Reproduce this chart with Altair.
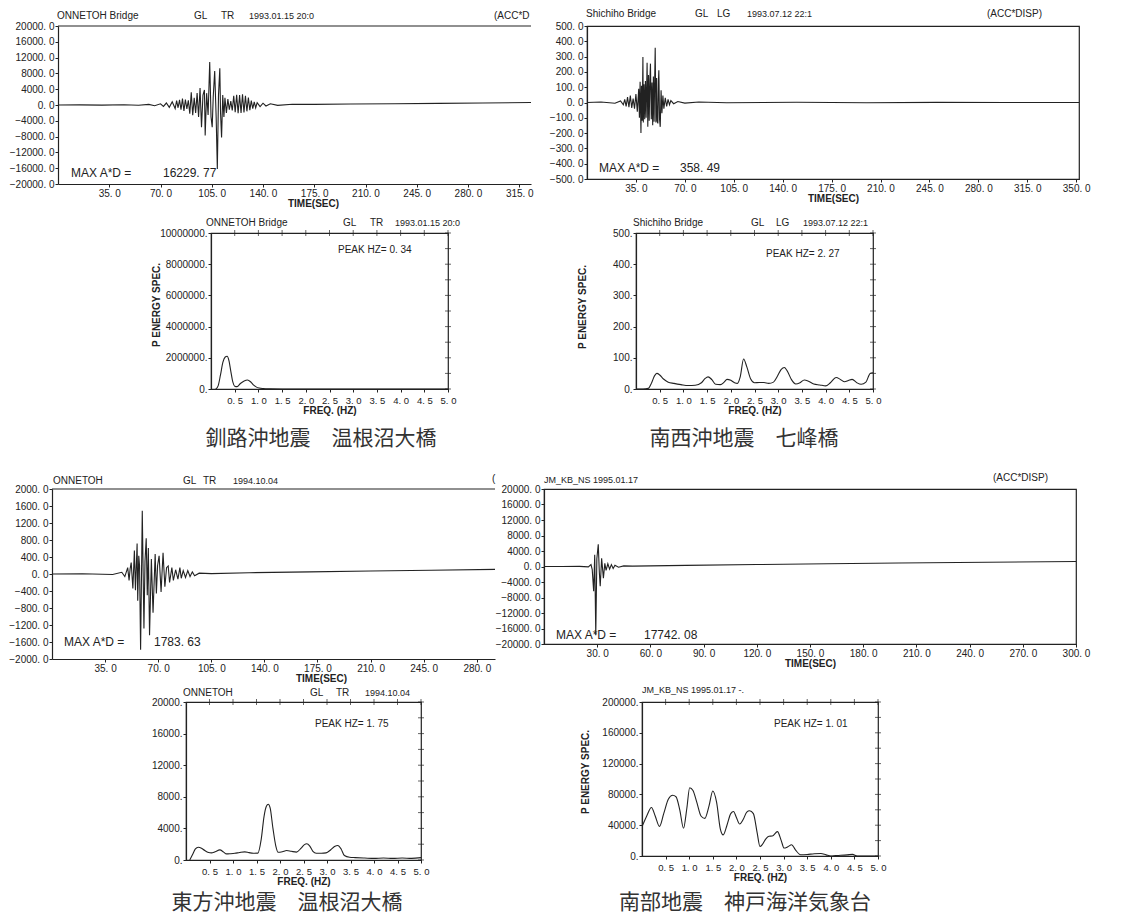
import altair as alt
import pandas as pd

FONT = "Liberation Sans"
CJK = "Noto Sans CJK JP"
INK = "#222222"

# ---------------- data ----------------
ts1_t = [0, 15, 30, 45, 55, 62, 66, 70, 72, 74, 76, 78, 80, 81, 82, 83, 84, 85, 86, 87,
         88, 89, 90, 91, 92, 93, 94, 95, 96, 97, 98, 99, 100, 100.5, 101.5, 102.5, 103.6,
         104.5, 105.3, 106, 107, 108, 108.8, 109.6, 110.5, 111, 111.7, 112.5, 113.3, 114,
         115, 116, 117, 118, 119, 120, 121, 122, 123, 124, 125, 126, 127, 128, 129, 130,
         131, 132, 133, 134, 135, 136, 138, 140, 142, 145, 150, 160, 175, 200, 230, 260, 290, 323]
ts1_v = [0, 40, -30, 60, -80, 150, -200, 300, -350, 500, -600, 800, -900, 1100, -700, 1300,
         -1200, 1600, -1500, 1400, -1000, 1200, -2200, 3200, -2600, 1800, -2000, 3000, -3000,
         4300, -5600, 2500, 3800, -7700, 3000, -2500, 10900, -3000, -5600, 2000, 8600, -3000,
         -16230, 2500, 9300, -2000, -8200, 2500, -3000, 1800, -2000, 1500, -1200, 1000, -1400,
         2300, -1800, 2600, -2100, 2500, -2000, 2700, -1900, 2300, -1600, 1900, -1300, 1100,
         -900, 800, -700, 600, -400, 450, -250, 300, -100, 200, 150, 250, 300, 400, 500, 650]

ts2_t = [0, 10, 20, 24, 26, 27, 28, 29, 30, 31, 32, 33, 34, 35, 36, 37, 37.5, 38, 38.6, 39,
         39.5, 40, 40.3, 40.8, 41.3, 41.8, 42.3, 43, 43.5, 44, 44.5, 45, 45.4, 46, 46.5, 47,
         47.5, 48, 48.4, 48.8, 49.3, 49.8, 50.2, 50.7, 51.1, 51.4, 51.9, 52.4, 53, 53.6, 54.3,
         55, 56, 57, 58, 59, 60, 62, 65, 70, 80, 100, 150, 200, 250, 300, 352]
ts2_v = [0, 3, -5, 10, -15, 20, -25, 35, -30, 45, -35, 25, -40, 55, -60, 90, -100, 135, -200,
         110, -120, 298, -130, 120, -110, 140, -100, 259, -159, 180, -120, 150, 254, -110, 130,
         -148, 170, -125, 140, 358, -130, 160, -120, -137, 140, 211, -110, -159, 80, -70, 45,
         -40, 30, -25, 20, -15, 12, -8, 6, -4, 3, -2, 2, -2, 1, 0, 0]

ts3_t = [0, 20, 40, 46, 48, 49.9, 50.8, 51.5, 52.2, 53.3, 54.3, 55, 56.1, 56.5, 57.2, 57.7,
         58.4, 59.5, 60.6, 61.3, 62.1, 62.8, 63.5, 64.3, 65.5, 66.6, 68, 68.8, 69.6, 70.6,
         71.9, 73.2, 74.4, 75.5, 76.6, 77.5, 79, 80, 81.5, 83, 84.3, 85.2, 86.5, 88, 89.5, 91,
         92.5, 94, 97, 105, 130, 170, 210, 250, 292]
ts3_v = [0, 5, -10, 40, -60, 150, -150, 120, 270, -340, 550, -380, 720, -630, 430, 200, -1784,
         1490, -1280, 300, 840, -500, 610, -1440, 350, -910, 470, -460, 200, 430, -420, 500,
         -300, 150, 190, -200, 150, -150, 100, -120, 150, -100, 80, -80, 80, -60, 50, -40, 20,
         10, 30, 50, 70, 90, 110]

ts4_t = [0, 10, 20, 25, 26.5, 27.2, 28, 28.6, 29.2, 29.8, 30.6, 31.2, 31.7, 32.5, 33.5, 34.3,
         35, 36, 37, 38, 39, 40, 42, 45, 50, 80, 120, 160, 200, 250, 300]
ts4_v = [0, 10, 30, -100, 500, -800, -6400, 3000, -17742, 2000, 5740, -1500, -5100, 2100,
         -3000, 800, -1000, 700, -700, 500, -500, 300, -200, 150, 100, 300, 500, 700, 900,
         1100, 1300]

sp1_f = [0.10, 0.15, 0.20, 0.25, 0.30, 0.34, 0.38, 0.42, 0.46, 0.50, 0.55, 0.62, 0.70, 0.77,
         0.84, 0.90, 0.96, 1.02, 1.10, 1.25, 1.50, 2.00, 3.00, 4.00, 5.00]
sp1_p = [0, 200000, 900000, 1700000, 2050000, 2100000, 1800000, 1100000, 450000, 180000,
         150000, 350000, 520000, 580000, 450000, 250000, 120000, 60000, 30000, 10000, 0, 0,
         0, 0, 0]

sp2_f = [0.0, 0.15, 0.26, 0.33, 0.39, 0.44, 0.50, 0.58, 0.68, 0.80, 0.95, 1.10, 1.25, 1.38,
         1.46, 1.52, 1.60, 1.68, 1.78, 1.86, 1.92, 2.0, 2.08, 2.14, 2.20, 2.27, 2.34, 2.42,
         2.50, 2.60, 2.70, 2.80, 2.90, 2.98, 3.06, 3.13, 3.20, 3.28, 3.37, 3.46, 3.55, 3.64,
         3.75, 3.88, 4.0, 4.10, 4.22, 4.32, 4.40, 4.48, 4.56, 4.66, 4.75, 4.85, 4.94, 5.0]
sp2_p = [0, 0, 2, 20, 42, 50, 45, 32, 22, 18, 14, 11, 12, 20, 34, 39, 30, 15, 14, 22, 31, 28,
         20, 18, 40, 96, 70, 32, 20, 21, 21, 18, 22, 40, 62, 69, 55, 30, 16, 20, 29, 25, 16,
         13, 10, 20, 37, 30, 23, 27, 31, 20, 15, 22, 50, 52]

sp3_f = [0.08, 0.14, 0.20, 0.26, 0.33, 0.40, 0.48, 0.54, 0.62, 0.72, 0.80, 0.86, 0.95, 1.04,
         1.14, 1.25, 1.34, 1.43, 1.53, 1.60, 1.66, 1.71, 1.75, 1.79, 1.85, 1.91, 1.96, 2.05,
         2.14, 2.24, 2.35, 2.45, 2.52, 2.57, 2.63, 2.70, 2.77, 2.88, 2.98, 3.08, 3.16, 3.23,
         3.30, 3.37, 3.48, 3.60, 3.80, 4.0, 4.2, 4.4, 4.6, 4.8, 5.0]
sp3_p = [0, 700, 1400, 1620, 1500, 1200, 950, 900, 1050, 1280, 1000, 770, 800, 850, 950, 1030,
         930, 850, 870, 2600, 5500, 6800, 7050, 6600, 4000, 1800, 980, 1050, 1200, 1100, 1000,
         1500, 1950, 2050, 1800, 1100, 850, 850, 900, 1300, 1700, 1840, 1400, 560, 340, 300,
         250, 200, 250, 200, 250, 200, 300]

sp4_f = [0.01, 0.1, 0.2, 0.28, 0.37, 0.46, 0.56, 0.65, 0.72, 0.80, 0.88, 0.95, 1.01, 1.08,
         1.16, 1.25, 1.33, 1.42, 1.50, 1.58, 1.66, 1.72, 1.80, 1.88, 1.94, 2.00, 2.07, 2.14,
         2.22, 2.28, 2.36, 2.44, 2.50, 2.55, 2.62, 2.69, 2.76, 2.87, 2.95, 3.01, 3.09, 3.17,
         3.25, 3.36, 3.50, 3.65, 3.79, 3.90, 4.00, 4.10, 4.21, 4.35, 4.46, 4.56, 4.70, 5.0]
sp4_p = [39400, 52000, 63000, 52000, 38500, 55000, 74000, 78800, 77000, 60000, 36000, 62000,
         88600, 85000, 70000, 52000, 48800, 65000, 84400, 70000, 35000, 27400, 40000, 55000,
         57800, 50000, 41500, 47000, 57000, 58700, 55000, 30000, 12400, 15000, 22000, 25700,
         26000, 31700, 20000, 10300, 12000, 14600, 8000, 1700, 2000, 3000, 3200, 1500, 0, 500,
         900, 1500, 2100, 0, 0, 0]

# tick label values
ts1_ticks = [35, 70, 105, 140, 175, 210, 245, 280, 315]
ts2_ticks = [35, 70, 105, 140, 175, 210, 245, 280, 315, 350]
ts3_ticks = [35, 70, 105, 140, 175, 210, 245, 280]
ts4_ticks = [30, 60, 90, 120, 150, 180, 210, 240, 270, 300]
freq_ticks = [0.5, 1.0, 1.5, 2.0, 2.5, 3.0, 3.5, 4.0, 4.5, 5.0]

ONE = pd.DataFrame({"k": [0]})
DOT = "replace(format(datum.value, '.1f'), '.', '. ')"
T0 = 17  # room kept above every row for the panel headers
NOFRAME = alt.ViewBackground(stroke="transparent")


def txt(s, x, y, size=10, weight="normal", align="left", angle=0, font=FONT, color=INK):
    return alt.Chart(ONE).mark_text(
        text=s, font=font, fontSize=size, fontWeight=weight, align=align,
        baseline="alphabetic", angle=angle, color=color,
    ).encode(x=alt.value(x), y=alt.value(y))


def gap(w):
    return alt.Chart(ONE).mark_point(opacity=0).encode(
        x=alt.value(0), y=alt.value(0)
    ).properties(width=w, height=1, view=NOFRAME)


def lead(w, h):
    # invisible leading cell of a row: fixes the row's left edge and vertical extent
    return alt.Chart(ONE).mark_rule(opacity=0).encode(
        x=alt.value(0), y=alt.value(-T0), y2=alt.value(h)
    ).properties(width=w, height=h, view=NOFRAME)


def ts_panel(t, v, xmax, xticks, ylim, ystep, W, H, texts, title_x=None, open_right=False):
    xaxis = dict(values=xticks, labelExpr=DOT, title="TIME(SEC)", titlePadding=0,
                 labelPadding=1)
    if title_x is not None:
        xaxis["titleX"] = title_x
    line = alt.Chart(pd.DataFrame({"t": t, "v": v})).mark_line(
        color=INK, strokeWidth=1.1, clip=True
    ).encode(
        x=alt.X("t:Q", scale=alt.Scale(domain=[0, xmax], nice=False, zero=False),
                axis=alt.Axis(**xaxis)),
        y=alt.Y("v:Q", scale=alt.Scale(domain=[-ylim, ylim], nice=False),
                axis=alt.Axis(values=list(range(-ylim, ylim + 1, ystep)),
                              labelExpr=DOT, title=None)),
    )
    layers = [line]
    props = dict(width=W, height=H)
    if open_right:
        # the right edge of this trace is hidden by its neighbour: only a top line
        layers.append(alt.Chart(ONE).mark_rule(color=INK, strokeWidth=1.2).encode(
            x=alt.value(0), x2=alt.value(W), y=alt.value(0)))
        props["view"] = NOFRAME
    return alt.layer(*layers, *texts).properties(**props)


def sp_panel(f, p, ymax, ystep, W, H, texts):
    xs = alt.Scale(domain=[0, 5], nice=False, zero=False)
    ys = alt.Scale(domain=[0, ymax], nice=False)
    xax = alt.Axis(values=freq_ticks, labelExpr=DOT, title="FREQ. (HZ)",
                   titlePadding=1, labelPadding=3, labelFontSize=9.5)
    yax = alt.Axis(values=list(range(0, ymax + 1, ystep)),
                   labelExpr="format(datum.value, 'd') + '.'", title=None)
    line = alt.Chart(pd.DataFrame({"f": f, "p": p})).mark_line(
        color=INK, strokeWidth=1.1, interpolate="monotone", clip=True
    ).encode(x=alt.X("f:Q", scale=xs, axis=xax), y=alt.Y("p:Q", scale=ys, axis=yax))
    # small ticks along the top and right edges of the frame
    top_ticks = alt.Chart(pd.DataFrame({"f": freq_ticks})).mark_tick(
        orient="vertical", color=INK, thickness=1, size=6
    ).encode(x=alt.X("f:Q", scale=xs, axis=xax), y=alt.value(0))
    right_ticks = alt.Chart(pd.DataFrame({"p": list(range(0, ymax + 1, ystep // 2))})).mark_tick(
        orient="horizontal", color=INK, thickness=1, size=6
    ).encode(y=alt.Y("p:Q", scale=ys, axis=yax), x=alt.value(W))
    return alt.layer(line, top_ticks, right_ticks, *texts).properties(width=W, height=H)


# ---------------- panels ----------------
TS1 = ts_panel(ts1_t, ts1_v, 323, ts1_ticks, 20000, 4000, 473, 158, [
    txt("ONNETOH Bridge", -1, -7), txt("GL", 136, -7), txt("TR", 163, -7),
    txt("1993.01.15 20:0", 191, -7, size=9), txt("(ACC*D", 436, -7),
    txt("MAX A*D =", 13, 151, size=12), txt("16229. 77", 105, 151, size=12),
], title_x=255, open_right=True)

TS2 = ts_panel(ts2_t, ts2_v, 352, ts2_ticks, 500, 100, 492, 153, [
    txt("Shichiho Bridge", -1, -9), txt("GL", 108, -9), txt("LG", 130, -9),
    txt("1993.07.12 22:1", 160, -9, size=9), txt("(ACC*DISP)", 455, -9, align="right"),
    txt("MAX A*D =", 12, 146, size=12), txt("358. 49", 93, 146, size=12),
])

SP1 = sp_panel(sp1_f, sp1_p, 10000000, 2000000, 237, 156, [
    txt("ONNETOH Bridge", -5, -7), txt("GL", 132, -7), txt("TR", 159, -7),
    txt("1993.01.15 20:0", 184, -7, size=9),
    txt("PEAK HZ= 0. 34", 127, 20),
    txt("P ENERGY SPEC.", -51, 72, weight="bold", align="center", angle=270),
    txt("釧路沖地震　温根沼大橋", 110, 212, size=21, align="center", font=CJK, color="#333333"),
])

SP2 = sp_panel(sp2_f, sp2_p, 500, 100, 237, 156, [
    txt("Shichiho Bridge", -3, -7), txt("GL", 115, -7), txt("LG", 140, -7),
    txt("1993.07.12 22:1", 167, -7, size=9),
    txt("PEAK HZ= 2. 27", 130, 24),
    txt("P ENERGY SPEC.", -50, 74, weight="bold", align="center", angle=270),
    txt("南西沖地震　七峰橋", 108, 212, size=21, align="center", font=CJK, color="#333333"),
])

TS3 = ts_panel(ts3_t, ts3_v, 292, ts3_ticks, 2000, 400, 443, 170, [
    txt("ONNETOH", 1, -5), txt("GL", 131, -5), txt("TR", 151, -5),
    txt("1994.10.04", 181, -5, size=9), txt("(", 440, -7),
    txt("MAX A*D =", 12, 157, size=12), txt("1783. 63", 102, 157, size=12),
], title_x=269, open_right=True)

TS4 = ts_panel(ts4_t, ts4_v, 300, ts4_ticks, 20000, 4000, 532, 155, [
    txt("JM_KB_NS  1995.01.17", 0, -6, size=9),
    txt("(ACC*DISP)", 504, -8, align="right"),
    txt("MAX A*D =", 12, 150, size=12), txt("17742. 08", 100, 150, size=12),
])

SP3 = sp_panel(sp3_f, sp3_p, 20000, 4000, 235, 158, [
    txt("ONNETOH", -3, -6), txt("GL", 124, -6), txt("TR", 150, -6),
    txt("1994.10.04", 179, -6, size=9),
    txt("PEAK HZ= 1. 75", 129, 25),
    txt("東方沖地震　温根沼大橋", 101, 207, size=21, align="center", font=CJK, color="#333333"),
])

SP4 = sp_panel(sp4_f, sp4_p, 200000, 40000, 236, 154, [
    txt("JM_KB_NS  1995.01.17 -.", 0, -9, size=9),
    txt("PEAK HZ= 1. 01", 132, 25),
    txt("P ENERGY SPEC.", -53, 70, weight="bold", align="center", angle=270),
    txt("南部地震　神戸海洋気象台", 103, 207, size=21, align="center", font=CJK, color="#333333"),
])


def row(lw, lh, a, gw, b):
    return alt.hconcat(lead(lw, lh), a, gap(gw), b, spacing=0, bounds="flush")


chart = alt.vconcat(
    row(46, 188, TS1, 56, TS2),
    row(199, 237, SP1, 188, SP2),
    row(40, 194, TS3, 49, TS4),
    row(174, 160, SP3, 221, SP4),
    spacing=0,
).properties(
    padding=0, background="white"
).configure(
    font=FONT
).configure_view(
    stroke=INK, strokeWidth=1.2
).configure_axis(
    labelFont=FONT, labelFontSize=10, labelColor=INK, domainColor=INK, tickColor=INK,
    tickSize=3, grid=False, labelPadding=1, titleFont=FONT, titleFontSize=10,
    titleFontWeight="bold", titleColor=INK, labelOverlap=False, labelFlush=False,
    domainWidth=1.2,
)

chart.save("out.html", embed_options={"renderer": "svg", "actions": False})
